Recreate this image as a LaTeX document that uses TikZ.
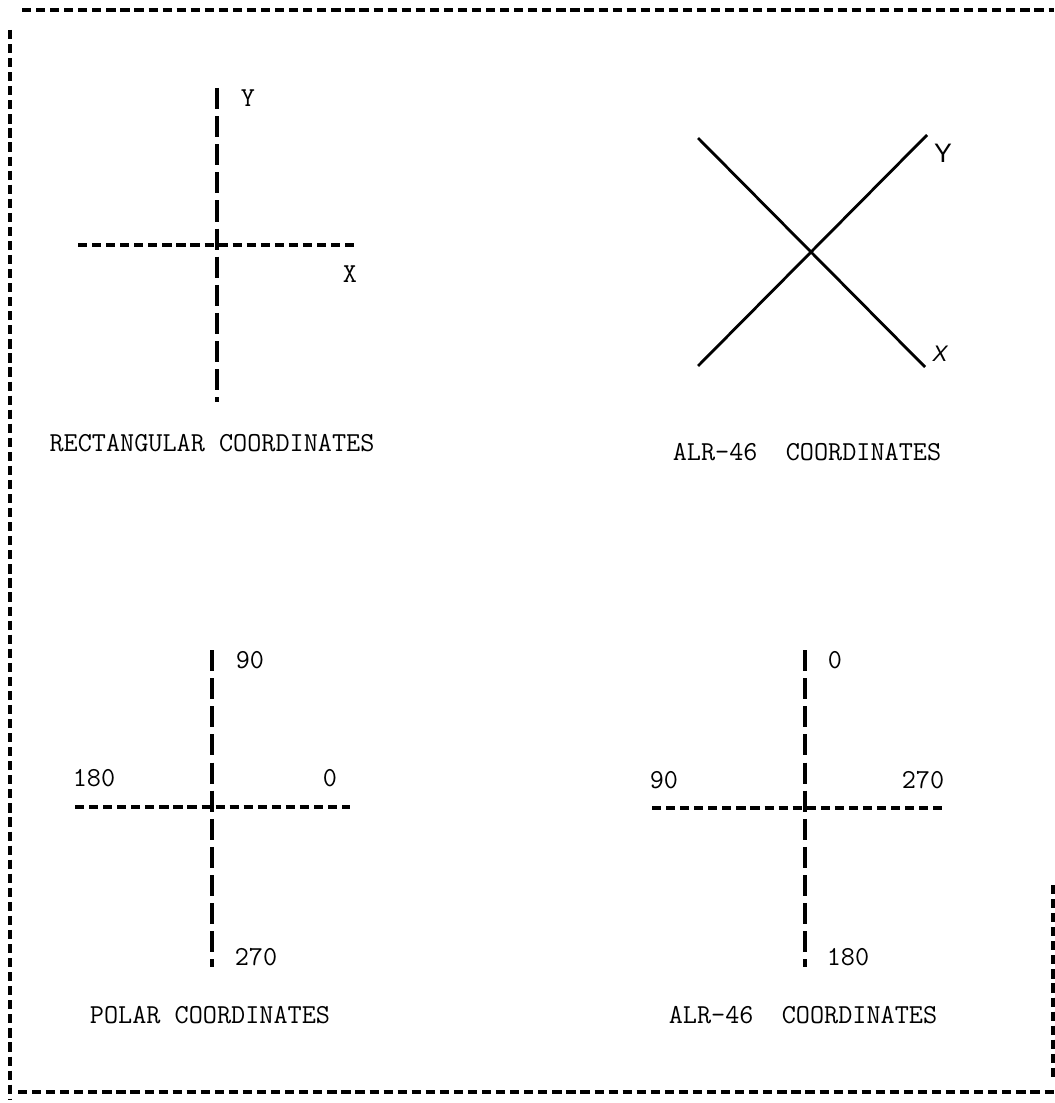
\documentclass[tikz,border=0pt]{standalone}
\usepackage{fontspec}
\setsansfont{Liberation Sans}
\usetikzlibrary{positioning}
\tikzset{
  frameln/.style={line width=2.2pt,dash pattern=on 6.5pt off 3.5pt},
  haxis/.style={line width=2.15pt,dash pattern=on 6.5pt off 3.5pt},
  vaxis/.style={line width=2.2pt,dash pattern=on 15pt off 5pt},
  xline/.style={line width=2pt},
  lbl/.style={font=\fontsize{19.5}{22}\selectfont\ttfamily\addfontfeature{FakeBold=4},inner sep=0pt},
  capt/.style={lbl},
  hand/.style={font=\fontsize{19}{22}\selectfont\sffamily,inner sep=0pt},
}
\begin{document}
\begin{tikzpicture}[x=0.025cm,y=-0.025cm]
  \useasboundingbox (0,0) rectangle (1054,1103);

  % outer frame
  \coordinate (ftl) at (22,10);
  \coordinate (ftr) at (1054,10);
  \coordinate (flt) at (10,30);
  \coordinate (flb) at (10,1100);
  \coordinate (fbl) at (18,1092);
  \coordinate (fbr) at (1054,1092);
  \coordinate (frt) at (1053,885);
  \coordinate (frb) at (1053,1080);
  \draw[frameln] (ftl) -- (ftr);
  \draw[frameln] (flt) -- (flb);
  \draw[frameln] (fbl) -- (fbr);
  \draw[frameln] (frt) -- (frb);

  % rectangular
  \coordinate (rt) at (217,88);
  \coordinate (rb) at (217,402);
  \coordinate (rl) at (78,245);
  \coordinate (rr) at (356,245);
  \draw[vaxis] (rt) -- (rb);
  \draw[haxis] (rl) -- (rr);
  \node[lbl] (ry) at (248,98) {Y};
  \node[lbl] (rx) at (350,274) {X};
  \node[capt] (rcap) at (212,443) {RECTANGULAR COORDINATES};

  % ALR-46 rotated
  \coordinate (a1) at (698,138);
  \coordinate (a2) at (925,367);
  \coordinate (b1) at (698,366);
  \coordinate (b2) at (927,135);
  \draw[xline] (a1) -- (a2);
  \draw[xline] (b1) -- (b2);
  \node[hand] (ay) at (943,153) {Y};
  \node[hand,font=\fontsize{16}{18}\selectfont\sffamily\itshape] (ax) at (940,354) {X};
  \node[capt] (acap) at (807,452) {ALR-46~~COORDINATES};

  % polar
  \coordinate (pt) at (212,650);
  \coordinate (pb) at (212,967);
  \coordinate (pl) at (75,807);
  \coordinate (pr) at (350,807);
  \draw[vaxis] (pt) -- (pb);
  \draw[haxis] (pl) -- (pr);
  \node[lbl] (p90) at (250,660) {90};
  \node[lbl] (p180) at (94,778) {180};
  \node[lbl] (p0) at (330,778) {0};
  \node[lbl] (p270) at (256,957) {270};
  \node[capt] (pcap) at (210,1015) {POLAR COORDINATES};

  % ALR-46 polar
  \coordinate (qt) at (805,650);
  \coordinate (qb) at (805,967);
  \coordinate (ql) at (652,808);
  \coordinate (qr) at (943,808);
  \draw[vaxis] (qt) -- (qb);
  \draw[haxis] (ql) -- (qr);
  \node[lbl] (q0) at (835,660) {0};
  \node[lbl] (q90) at (664,780) {90};
  \node[lbl] (q270) at (923,780) {270};
  \node[lbl] (q180) at (848,957) {180};
  \node[capt] (qcap) at (803,1015) {ALR-46~~COORDINATES};
\end{tikzpicture}
\end{document}
